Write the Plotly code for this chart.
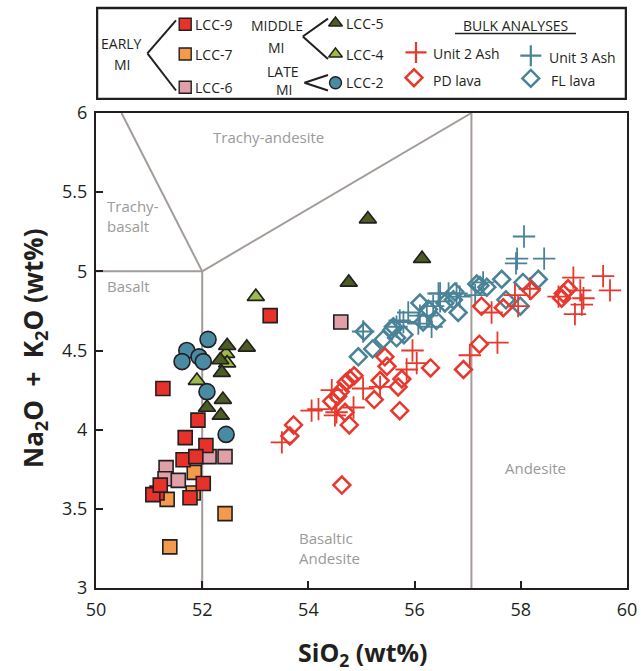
import plotly.graph_objects as go

# ---------------- DATA (SiO2 wt%, Na2O+K2O wt%) ----------------
lcc9_x = [51.26, 51.92, 51.68, 52.07, 51.64, 51.88, 52.02, 51.15, 51.07, 51.77, 51.21, 53.28]
lcc9_y = [4.26, 4.06, 3.95, 3.90, 3.81, 3.83, 3.66, 3.60, 3.59, 3.57, 3.65, 4.72]
lcc7_x = [51.85, 51.83, 51.34, 52.43, 51.39]
lcc7_y = [3.73, 3.60, 3.56, 3.47, 3.26]
lcc6_x = [51.32, 51.30, 51.55, 52.13, 52.43, 54.61]
lcc6_y = [3.76, 3.69, 3.68, 3.83, 3.83, 4.68]
lcc5_x = [55.12, 56.14, 54.76, 52.47, 52.84, 52.34, 52.37, 52.39, 52.09, 52.35]
lcc5_y = [5.33, 5.08, 4.93, 4.53, 4.52, 4.44, 4.36, 4.19, 4.14, 4.09]
lcc4_x = [53.01, 52.45, 52.47, 51.90]
lcc4_y = [4.84, 4.48, 4.42, 4.31]
lcc2_x = [52.11, 51.71, 51.94, 52.02, 51.62, 52.09, 52.45]
lcc2_y = [4.57, 4.50, 4.46, 4.43, 4.43, 4.24, 3.97]

unit2_x = [53.50, 54.06, 54.19, 54.44, 54.50, 54.53, 54.85, 55.03, 55.35, 55.85, 55.96, 56.04,
           57.04, 57.45, 57.56, 57.89, 57.95, 58.17, 58.71, 58.99, 59.12, 59.18, 59.15, 59.02,
           59.55, 59.68]
unit2_y = [3.92, 4.12, 4.13, 4.25, 4.09, 4.11, 4.14, 4.26, 4.27, 4.38, 4.50, 4.42,
           4.47, 4.74, 4.55, 4.85, 4.78, 4.89, 4.84, 4.96, 4.88, 4.83, 4.79, 4.73,
           4.97, 4.88]
pd_x = [53.65, 53.72, 54.44, 54.55, 54.60, 54.71, 54.78, 54.86, 54.77, 54.69, 54.63, 55.24,
        55.35, 55.44, 55.48, 55.72, 55.69, 55.76, 56.30, 56.92, 57.22, 57.26, 57.67, 58.19,
        58.80, 58.89, 58.77]
pd_y = [3.96, 4.03, 4.18, 4.21, 4.24, 4.30, 4.32, 4.34, 4.03, 4.11, 3.65, 4.19,
        4.31, 4.46, 4.40, 4.12, 4.27, 4.32, 4.39, 4.38, 4.54, 4.78, 4.77, 4.88,
        4.86, 4.89, 4.83]
unit3_x = [58.06, 57.93, 57.91, 58.44, 56.85, 57.14, 57.29, 56.48, 56.35, 56.10, 56.32, 55.88,
           55.72, 56.79, 56.45, 56.07, 56.23, 55.79, 55.66, 56.64, 56.48, 55.03]
unit3_y = [5.22, 5.08, 5.05, 5.08, 4.84, 4.85, 4.93, 4.86, 4.78, 4.72, 4.65, 4.74,
           4.69, 4.86, 4.86, 4.67, 4.72, 4.68, 4.65, 4.86, 4.81, 4.62]
fl_x = [54.94, 55.21, 55.41, 55.05, 55.57, 55.66, 55.60, 55.80, 56.10, 56.26, 56.16, 56.41,
        56.82, 56.73, 56.76, 56.57, 57.17, 57.36, 57.23, 57.64, 58.04, 57.72, 57.99, 58.33]
fl_y = [4.46, 4.51, 4.57, 4.62, 4.63, 4.58, 4.65, 4.60, 4.80, 4.76, 4.68, 4.69,
        4.74, 4.82, 4.87, 4.80, 4.92, 4.90, 4.91, 4.95, 4.93, 4.82, 4.78, 4.95]

# TAS field boundaries
boundaries = {
    "basalt_top": ([50, 52], [5, 5]),
    "trachybasalt": ([50.48, 52], [6, 5]),
    "trachyandesite": ([52, 57.07], [5, 6]),
    "basalt_ba": ([52, 52], [3, 5]),
    "ba_andesite": ([57.07, 57.07], [3, 6]),
}
field_labels = [
    ("Trachy-andesite", 53.24, 5.85, "center"),
    ("Trachy-<br>basalt", 50.17, 5.35, "left"),
    ("Basalt", 50.17, 4.91, "left"),
    ("Basaltic<br>Andesite", 53.79, 3.25, "left"),
    ("Andesite", 58.27, 3.76, "center"),
]

x_ticks = [50, 52, 54, 56, 58, 60]
y_ticks = [3, 3.5, 4, 4.5, 5, 5.5, 6]

RED = "#e8372c"
TEAL = "#4a8398"
C9 = "#e6322a"
C7 = "#f39a4c"
C6 = "#dfa0a8"
C5 = "#4b5d22"
C4 = "#9dbb48"
C2 = "#4a8ba4"
EDGE = "#231f20"
GRAY = "#a39c98"
FONT = "Open Sans"

# pixel frame used to place the legend box and the axes
W, H = 641, 671
ML, MR, MT, MB = 96, 14, 4, 83
PLOT_TOP = 113
PW, PH = W - ML - MR, H - MT - MB
LEG_TOP, LEG_BOT = 4, 100

fig = go.Figure()

for name, (bx, by) in boundaries.items():
    fig.add_trace(go.Scatter(x=bx, y=by, mode="lines", line=dict(color=GRAY, width=2),
                             hoverinfo="skip", showlegend=False))

def pts(x, y, symbol, size, color, lw, lc=EDGE, xa="x", ya="y"):
    fig.add_trace(go.Scatter(x=x, y=y, mode="markers", xaxis=xa, yaxis=ya, showlegend=False,
                             marker=dict(symbol=symbol, size=size, color=color,
                                         line=dict(width=lw, color=lc))))

# bulk analyses
pts(fl_x, fl_y, "diamond-open", 13, TEAL, 2.5, TEAL)
pts(unit3_x, unit3_y, "cross-thin-open", 16, TEAL, 1.8, TEAL)
pts(pd_x, pd_y, "diamond-open", 13, RED, 2.5, RED)
pts(unit2_x, unit2_y, "cross-thin-open", 16, RED, 1.8, RED)
# melt inclusions
pts(lcc6_x, lcc6_y, "square", 14, C6, 1.6)
pts(lcc7_x, lcc7_y, "square", 14, C7, 1.6)
pts(lcc9_x, lcc9_y, "square", 14, C9, 1.6)
pts(lcc4_x, lcc4_y, "triangle-up", 15, C4, 1.6)
pts(lcc5_x, lcc5_y, "triangle-up", 15, C5, 1.6)
pts(lcc2_x, lcc2_y, "circle", 16, C2, 1.6)

for txt, lx, ly, al in field_labels:
    fig.add_annotation(x=lx, y=ly, xref="x", yref="y", text=txt, showarrow=False,
                       xanchor=al, yanchor="middle", align=al,
                       font=dict(family=FONT, size=15, color="#9a9a9a"))

# ---------------- legend box (pixel-like coordinates on helper axes) ----------------
LX = [185.2, 185.2, 185.2, 335.5, 335.5, 335.5]
LY = [24.3, 54.0, 87.2, 23.0, 54.0, 82.8]
leg_items = [("LCC-9", "square", C9), ("LCC-7", "square", C7), ("LCC-6", "square", C6),
             ("LCC-5", "triangle-up", C5), ("LCC-4", "triangle-up", C4), ("LCC-2", "circle", C2)]
for (lab, sym, col), lx, ly in zip(leg_items, LX, LY):
    pts([lx], [ly], sym, 12, col, 1.4, xa="x2", ya="y2")
    fig.add_annotation(x=lx + 8, y=ly, xref="x2", yref="y2", text=lab, showarrow=False,
                       xanchor="left", yanchor="middle",
                       font=dict(family=FONT, size=14, color=EDGE))

bulk_items = [("Unit 2 Ash", "cross-thin-open", RED, 416, 52.4, 431, 53),
              ("Unit 3 Ash", "cross-thin-open", TEAL, 530.8, 55.7, 547, 57),
              ("PD lava", "diamond-open", RED, 414, 77.7, 431, 80),
              ("FL lava", "diamond-open", TEAL, 530.8, 78.4, 549, 80)]
for lab, sym, col, mx, my, tx, ty in bulk_items:
    if sym.startswith("cross"):
        pts([mx], [my], sym, 15, col, 2.2, col, xa="x2", ya="y2")
    else:
        pts([mx], [my], sym, 13, col, 2.5, col, xa="x2", ya="y2")
    fig.add_annotation(x=tx, y=ty, xref="x2", yref="y2", text=lab, showarrow=False,
                       xanchor="left", yanchor="middle",
                       font=dict(family=FONT, size=14, color=EDGE))

group_text = [("EARLY", 121.5, 43), ("MI", 122, 64), ("MIDDLE", 277.4, 25.3), ("MI", 276, 47.3),
              ("LATE", 282.5, 71), ("MI", 284.2, 89.5)]
for t, gx, gy in group_text:
    fig.add_annotation(x=gx, y=gy, xref="x2", yref="y2", text=t, showarrow=False,
                       xanchor="center", yanchor="middle",
                       font=dict(family=FONT, size=14, color=EDGE))
fig.add_annotation(x=515, y=25, xref="x2", yref="y2", text="BULK ANALYSES", showarrow=False,
                   xanchor="center", yanchor="middle",
                   font=dict(family=FONT, size=14, color=EDGE))

brackets = [((147.4, 53.4), (176, 20.3)), ((147.4, 53.4), (176, 90.5)),
            ((302.8, 36.5), (328, 18.6)), ((302.8, 36.5), (328, 59)),
            ((304.5, 82.8), (328, 75)), ((304.5, 82.8), (328, 90.5))]
shapes = []
for (x0, y0), (x1, y1) in brackets:
    shapes.append(dict(type="line", xref="x2", yref="y2", x0=x0, y0=y0, x1=x1, y1=y1,
                       line=dict(color=EDGE, width=2)))
shapes.append(dict(type="line", xref="x2", yref="y2", x0=455, y0=33.5, x1=576, y1=33.5,
                   line=dict(color=EDGE, width=1.5)))
shapes.append(dict(type="rect", xref="x2", yref="y2", x0=97, y0=8, x1=626, y1=99,
                   line=dict(color=EDGE, width=2.5)))

# axis titles
fig.add_annotation(text="<b>Na<sub>2</sub>O&nbsp;&nbsp;+&nbsp;&nbsp;K<sub>2</sub>O (wt%)</b>",
                   xref="paper", yref="paper", x=(34 - ML) / PW, y=(H - MB - 348) / PH,
                   xanchor="center", yanchor="middle", textangle=-90, showarrow=False,
                   font=dict(family=FONT, size=26, color=EDGE))
fig.add_annotation(text="<b>SiO<sub>2</sub> (wt%)</b>", xref="paper", yref="paper",
                   x=(363 - ML) / PW, y=(H - MB - 654) / PH,
                   xanchor="center", yanchor="middle", showarrow=False,
                   font=dict(family=FONT, size=25, color=EDGE))

fig.update_layout(
    width=W, height=H,
    margin=dict(l=ML, r=MR, t=MT, b=MB, autoexpand=False),
    paper_bgcolor="white", plot_bgcolor="white",
    shapes=shapes,
    xaxis=dict(range=[50, 60], tickvals=x_ticks, ticktext=[str(v) for v in x_ticks],
               ticks="inside", ticklen=7, tickwidth=2, tickcolor=EDGE, ticklabelstandoff=4,
               showline=True, linecolor=EDGE, linewidth=2, mirror=True, showgrid=False,
               zeroline=False, tickfont=dict(family=FONT, size=18, color=EDGE)),
    yaxis=dict(range=[3, 6], tickvals=y_ticks, ticktext=[("%g" % v) for v in y_ticks],
               domain=[0, (H - MB - PLOT_TOP) / PH],
               ticks="inside", ticklen=7, tickwidth=2, tickcolor=EDGE, ticklabelstandoff=3,
               showline=True, linecolor=EDGE, linewidth=2, mirror=True, showgrid=False,
               zeroline=False, tickfont=dict(family=FONT, size=18, color=EDGE)),
    xaxis2=dict(range=[ML, W - MR], domain=[0, 1], anchor="y2", visible=False, fixedrange=True),
    yaxis2=dict(range=[LEG_BOT, LEG_TOP], domain=[(H - MB - LEG_BOT) / PH, 1], anchor="x2",
                visible=False, fixedrange=True),
    showlegend=False,
)
fig.write_html("out.html")
